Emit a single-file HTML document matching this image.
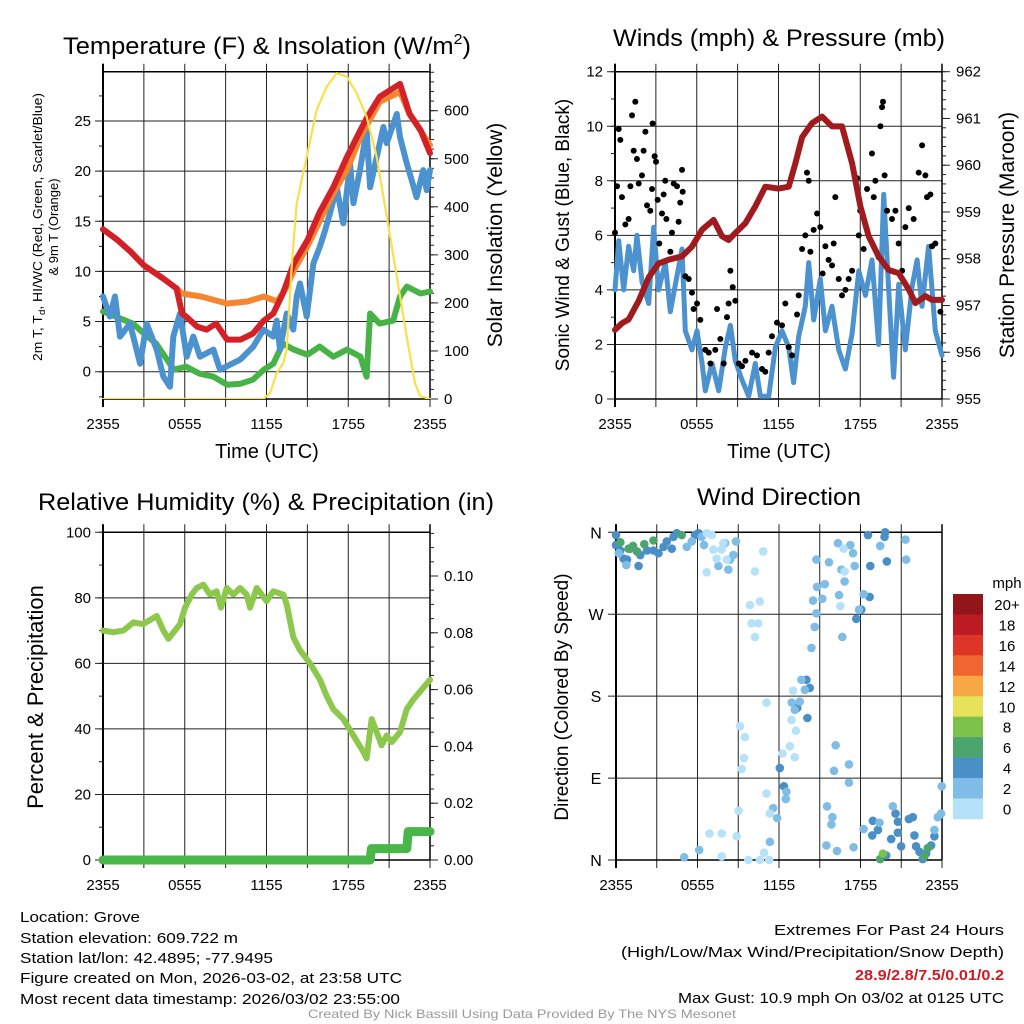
<!DOCTYPE html>
<html><head><meta charset="utf-8"><style>
html,body{margin:0;padding:0;background:#fff}
svg{display:block;font-family:"Liberation Sans",sans-serif}
</style></head><body>
<svg id="fig" width="1024" height="1024" viewBox="0 0 1024 1024" xmlns="http://www.w3.org/2000/svg">
<rect width="1024" height="1024" fill="#fff"/>
<g id="p1"></g>
<g id="p2"></g>
<g id="p3"></g>
<g id="p4"></g>
<g font-size="24" text-anchor="middle" fill="#000">
<text x="267" y="54" textLength="408" lengthAdjust="spacingAndGlyphs">Temperature (F) &amp; Insolation (W/m<tspan dy="-10" font-size="15">2</tspan><tspan dy="10">)</tspan></text>
<text x="779" y="46" textLength="332" lengthAdjust="spacingAndGlyphs">Winds (mph) &amp; Pressure (mb)</text>
<text x="266" y="510" textLength="456" lengthAdjust="spacingAndGlyphs">Relative Humidity (%) &amp; Precipitation (in)</text>
<text x="779" y="505" textLength="164" lengthAdjust="spacingAndGlyphs">Wind Direction</text>
</g>
<g fill="#000" text-anchor="middle">
<text x="267" y="458" font-size="20">Time (UTC)</text>
<text x="779" y="458" font-size="20">Time (UTC)</text>
<text transform="translate(42,227) rotate(-90)" font-size="13" textLength="268" lengthAdjust="spacingAndGlyphs">2m T, T<tspan font-size="9" dy="3">d</tspan><tspan dy="-3">, HI/WC (Red, Green, Scarlet/Blue)</tspan></text>
<text transform="translate(58,227) rotate(-90)" font-size="13">&amp; 9m T (Orange)</text>
<text transform="translate(502,235) rotate(-90)" font-size="21">Solar Insolation (Yellow)</text>
<text transform="translate(569,235) rotate(-90)" font-size="19">Sonic Wind &amp; Gust (Blue, Black)</text>
<text transform="translate(1014,235) rotate(-90)" font-size="21">Station Pressure (Maroon)</text>
<text transform="translate(43,697) rotate(-90)" font-size="22">Percent &amp; Precipitation</text>
<text transform="translate(568,697) rotate(-90)" font-size="19">Direction (Colored By Speed)</text>
</g>
<g font-size="15" fill="#000">
<text x="20" y="922" textLength="120" lengthAdjust="spacingAndGlyphs">Location: Grove</text>
<text x="20" y="943" textLength="218" lengthAdjust="spacingAndGlyphs">Station elevation: 609.722 m</text>
<text x="20" y="963" textLength="253" lengthAdjust="spacingAndGlyphs">Station lat/lon: 42.4895; -77.9495</text>
<text x="20" y="983" textLength="382" lengthAdjust="spacingAndGlyphs">Figure created on Mon, 2026-03-02, at 23:58 UTC</text>
<text x="20" y="1004" textLength="380" lengthAdjust="spacingAndGlyphs">Most recent data timestamp: 2026/03/02 23:55:00</text>
<text x="774" y="935" textLength="230" lengthAdjust="spacingAndGlyphs">Extremes For Past 24 Hours</text>
<text x="621" y="957" textLength="383" lengthAdjust="spacingAndGlyphs">(High/Low/Max Wind/Precipitation/Snow Depth)</text>
<text x="855" y="980" fill="#d01c24" font-weight="bold" textLength="149" lengthAdjust="spacingAndGlyphs">28.9/2.8/7.5/0.01/0.2</text>
<text x="678" y="1003" textLength="326" lengthAdjust="spacingAndGlyphs">Max Gust: 10.9 mph On 03/02 at 0125 UTC</text>
<text x="308" y="1018" font-size="12" fill="#999" textLength="428" lengthAdjust="spacingAndGlyphs">Created By Nick Bassill Using Data Provided By The NYS Mesonet</text>
</g>
</svg>
<script>
// ---------- data (hours since 2355 UTC) ----------
const timeTickLabels = ["2355","0555","1155","1755","2355"];
const tempTickLabels = [0,5,10,15,20,25];
const solarTickLabels = [0,100,200,300,400,500,600];
const windTickLabels = [0,2,4,6,8,10,12];
const pressTickLabels = [955,956,957,958,959,960,961,962];
const rhTickLabels = [0,20,40,60,80,100];
const precipTickLabels = ["0.00","0.02","0.04","0.06","0.08","0.10"];
const dirTickLabels = ["N","E","S","W","N"];
const speedBinLabels = ["0","2","4","6","8","10","12","14","16","18","20+"];

const tempH = [0,1,2,3,4.4,5.4,5.8,6.1,6.9,7.6,8.3,9.1,10.1,11,11.8,12.5,13.2,14,15,15.9,16.9,17.9,18.9,19.4,20.3,21.1,21.8,22.5,23.3,24];
const tempV = [14.2,13.2,12,10.6,9.3,8.3,5.8,5.5,4.5,4.2,4.8,3.2,3.2,3.8,5.1,5.8,7.8,10.8,13.1,15.9,18.4,21.4,24.1,25.4,27.4,28.1,28.7,25.7,24.1,21.8];
const t9H = [0,1,2,3,4.4,5.4,5.8,7.2,9.1,10.6,11.8,12.8,13.5,14,15,16.9,17.9,18.9,20.3,21.8,22.5,24];
const t9V = [14.2,13.2,12,10.6,9.3,8.3,7.8,7.5,6.8,7.0,7.5,7.0,8.5,10.1,12.5,17.8,20.1,23.4,26.9,27.9,25.7,22.6];
const tdH = [0,2.2,3,3.9,5.2,6.1,7.1,8.1,9.1,10.1,11,11.8,12.5,13.2,14,15,15.9,16.9,17.9,18.9,19.35,19.6,20.3,21.3,21.8,22.3,23.3,24];
const tdV = [6,4.8,3.8,2.8,0.2,0.5,-0.2,-0.5,-1.3,-1.2,-0.8,0.2,0.8,2.8,2.2,1.7,2.5,1.5,2.2,1.5,-0.5,5.8,4.8,5.1,7.5,8.5,7.8,8.0];
const wcH = [0,0.51,0.88,1.25,1.98,2.72,3.2,3.94,4.43,4.92,5.16,5.65,6.14,6.63,7.12,8.1,8.59,10.06,11.03,11.77,12.5,12.75,12.99,13.48,13.97,14.22,14.46,14.95,15.44,15.93,16.3,16.66,17.15,17.64,18.13,18.38,18.86,19.35,19.6,20.09,20.58,20.82,21.56,21.8,22.29,23.02,23.51,23.76,24];
const wcV = [7.5,5.5,7.5,3.5,4.8,0.8,4.8,2.2,-0.5,-1.5,3.5,5.8,1.5,3.5,1.5,2.2,0.2,1.2,2.5,4.2,3.5,5.1,2.2,5.8,4.2,7.5,8.8,5.5,10.8,12.5,14.1,15.8,18.4,14.8,20.8,16.8,20.1,24.1,18.4,21.4,24.4,22.8,25.7,23.4,20.8,17.4,20.1,18.1,20.1];
const solarH = [0,11.77,12.26,12.75,13.24,13.48,13.85,14.22,14.95,15.68,16.42,17.15,17.89,18.62,19.35,20.09,20.82,21.56,22.29,22.9,23.27,24];
const solarV = [0,0,12,54,75,103,276,407,504,601,650,678,671,636,588,504,380,255,130,33,6,0];

const windH = [0,0.27,0.64,1.0,1.37,1.61,1.98,2.47,2.84,3.2,3.69,4.06,4.43,4.92,5.16,5.65,6.02,6.39,6.63,7.12,7.61,8.1,8.47,8.83,9.32,9.81,10.3,10.67,11.28,11.77,12.26,12.75,13.11,13.48,13.97,14.22,14.58,15.07,15.44,15.93,16.42,16.91,17.4,17.89,18.38,18.86,19.35,19.72,20.09,20.45,20.82,21.31,21.8,22.17,22.53,23.02,23.51,24];
const windV = [4.0,5.8,4.0,5.6,4.7,6.0,4.3,3.5,6.3,4.0,5.0,3.2,4.2,5.5,2.5,1.8,2.5,1.3,0.3,1.3,0.3,1.9,2.7,1.4,0.7,0.1,1.3,0.1,0.1,1.9,2.5,1.9,0.6,2.3,3.4,5.0,2.9,4.4,2.5,3.4,1.8,1.1,2.4,4.7,3.8,5.1,2.0,7.5,4.0,0.8,4.2,1.8,4.1,5.1,3.4,5.6,2.5,1.6];
const gustH = [0,0.15,0.27,0.39,0.51,0.76,1.0,1.13,1.25,1.37,1.49,1.61,1.74,1.98,2.1,2.23,2.35,2.59,2.72,2.76,2.91,3.01,3.13,3.25,3.45,3.57,3.69,3.77,4.06,4.18,4.31,4.55,4.67,4.79,4.92,4.97,5.16,5.41,5.65,5.77,6.02,6.26,6.63,6.88,7.0,7.36,7.49,7.73,7.98,8.22,8.34,8.47,8.64,8.83,9.08,9.32,9.57,10.06,10.42,10.79,11.03,11.28,11.52,11.89,12.26,12.5,12.75,12.99,13.36,13.48,13.73,13.97,14.09,14.22,14.34,14.58,14.83,15.07,15.24,15.44,15.68,15.93,16.05,16.17,16.42,16.66,16.91,17.15,17.4,17.76,17.89,18.0,18.25,18.5,18.86,18.99,19.11,19.35,19.48,19.6,19.67,19.79,19.97,20.33,20.58,20.82,21.07,21.31,21.56,21.92,22.29,22.54,22.78,22.9,23.15,23.27,23.51,23.88];
const gustV = [6.1,7.8,9.9,9.5,7.4,6.4,6.6,7.8,10.4,9.1,10.9,8.8,7.9,8.2,9.1,9.8,7.1,6.9,7.7,10.1,8.9,8.7,7.3,5.7,6.8,7.5,8.0,6.6,5.4,6.1,7.9,7.8,6.5,7.2,8.4,7.6,4.5,4.4,3.9,3.3,3.5,2.9,1.8,1.7,1.3,1.8,3.3,2.2,1.3,3.0,3.5,4.7,4.1,3.6,1.3,1.2,1.4,1.7,1.6,1.1,1.0,1.7,2.3,2.8,2.7,3.5,1.9,1.6,3.1,3.8,5.5,6.0,8.3,8.0,5.4,6.2,6.8,6.3,4.6,5.6,5.1,4.9,5.7,7.4,4.4,3.8,4.0,4.4,4.7,8.1,6.0,6.9,5.5,7.7,9.0,7.4,8.0,5.2,10.0,10.7,10.9,8.2,6.9,6.6,6.9,5.7,4.7,6.3,7.0,6.6,8.3,9.3,8.2,7.4,7.5,5.6,5.7,3.2];
const pressH = [0,0.51,1.0,1.74,2.47,3.2,3.94,4.92,5.65,6.39,7.24,7.85,8.34,8.83,9.57,10.3,11.03,12.01,12.75,13.24,13.73,14.46,15.2,15.93,16.66,17.4,18.01,18.62,19.35,20.09,20.82,21.56,22.05,22.78,23.27,24];
const pressV = [956.48,956.62,956.7,957.1,957.6,957.9,957.98,958.05,958.26,958.62,958.83,958.48,958.4,958.55,958.76,959.12,959.54,959.5,959.54,960.04,960.6,960.9,961.04,960.83,960.83,960.04,959.12,958.48,958.05,957.76,957.69,957.34,957.05,957.2,957.12,957.12];

const rhH = [0,0.76,1.49,2.23,2.96,3.94,4.43,4.8,5.65,6.02,6.51,6.88,7.36,7.85,8.34,8.66,9.08,9.57,10.06,10.55,10.79,11.28,12.01,12.5,13.24,13.48,13.97,14.46,15.2,15.93,16.42,16.91,17.64,18.38,19.11,19.35,19.72,20.09,20.45,20.82,21.19,21.8,22.29,22.78,24];
const rhV = [70,69.5,70,72.5,72,74.5,70,67.5,72,77,81,83,84,81,82,77,83,81,83,81,77,83,79,82,81,78,68,64,60,55,50,46,43,38,33,31,43,39,35,38,36,39,46,49,55];
const precipH = [0,19.6,19.7,22.3,22.4,24];
const precipV = [0,0,0.004,0.004,0.01,0.01];

const dirH = [0,0,0.32,0.56,0.81,1.05,1.66,1.79,2.28,2.76,3.13,3.5,3.74,4.11,4.23,4.48,5.82,6.07,18.55,19.82,19.77,19.94,18.72,18.67,18.06,17.69,14.02,14.26,13.34,14.09,12.06,12.36,18.91,18.86,19.28,20.26,20.58,20.75,20.75,20.99,21.56,21.85,21.97,22.09,22.34,22.58,22.83,23.2,23.44,19.89,
 0.32,0.93,1.25,1.54,2.08,2.76,4.84,22.95,22.7,19.45,19.65,
 0.2,0.76,5.21,5.58,6.31,6.48,8.39,8.27,8.64,7.54,8.03,8.83,14.75,15.68,16.34,17.25,17.45,17.57,16.59,16.83,14.8,15.37,16.42,14.51,15.19,14.75,14.63,14.39,16.66,13.65,13.9,13.53,16.17,16.05,17.15,17.15,15.54,15.93,15.86,15.49,16.27,17.49,18.23,20.38,19.4,21.31,21.36,19.45,12.55,12.5,11.57,11.87,11.33,6.12,5.02,23.69,23.93,23.44,23.98,18.23,17.89,12.94,13.16,
 6.68,7.05,7.17,7.78,8.15,6.68,7.41,7.9,10.84,10.23,9.86,10.59,9.98,10.47,10.23,11.08,9.13,9.49,9.42,9.25,9.03,11.08,6.88,7.78,8.88,9.74,10.59,11.28,10.91,7.78,11.33,12.26,12.8,13.16,12.92,13.04,13.24,16.76,16.51,16.83];
const dirV = [357,346,340,331,330,342,323,335,340,340,337,344,350,342,355,359,357,359,357,360,355,328,323,289,275,265,198,189,167,156,101,81,43,27,33,23,51,42,30,15,45,47,27,15,9,1,7,16,26,5,
 349,342,345,339,347,351,357,13,4,1,7,
 337,324,344,350,355,346,330,319,335,323,348,350,330,327,348,346,337,323,319,306,300,303,291,285,287,271,256,233,245,198,187,174,126,98,105,85,59,47,39,16,10,14,34,59,41,352,330,345,75,67,57,46,20,11,3,47,51,33,81,292,275,173,165,
 359,357,341,341,330,316,331,348,339,317,280,284,260,260,245,173,147,135,112,100,54,73,29,29,26,0,0,0,8,4,51,117,125,113,154,186,142,342,279,317];
const dirSpeed = [5,5,5,5,5,5,5,5,5,5,5,5,5,5,5,5,5,5,5,5,5,5,5,5,5,5,5,5,5,5,5,5,5,5,5,5,5,5,5,5,5,5,5,5,5,5,5,5,5,5,
 7,7,7,7,7,7,7,7,7,7,9,
 3,3,3,3,3,3,3,3,3,3,3,3,3,3,3,3,3,3,3,3,3,3,3,3,3,3,3,3,3,3,3,3,3,3,3,3,3,3,3,3,3,3,3,3,3,3,3,3,3,3,3,3,3,3,3,3,3,3,3,3,3,3,3,
 1,1,1,1,1,1,1,1,1,1,1,1,1,1,1,1,1,1,1,1,1,1,1,1,1,1,1,1,1,1,1,1,1,1,1,1,1,1,1,1];
const speedColors = ["#b5e2f8","#7fbce6","#4a8fc6","#4da56e","#7cc24a","#e6e35a","#f7a845","#f06630","#dd3528","#bc1b23","#921519"];

// ---------- helpers ----------
const NS = "http://www.w3.org/2000/svg";
function mk(parent, tag, attrs){ const e=document.createElementNS(NS,tag); for(const k in attrs) e.setAttribute(k,attrs[k]); parent.appendChild(e); return e; }
function linScale(d0,d1,r0,r1){ return v => r0 + (v-d0)*(r1-r0)/(d1-d0); }
function pathD(xs,ys,sx,sy){ return xs.map((h,i)=>(i?"L":"M")+sx(h).toFixed(1)+","+sy(ys[i]).toFixed(1)).join(""); }

function frame(g, X0, X1, Y0, Y1, gridYs, name){
  const sx = linScale(0,24,X0,X1);
  for(let k=0;k<=8;k++){
    const x = sx(k*3);
    const l = mk(g,"line",{x1:x,x2:x,y1:Y0-8,y2:Y1+8,stroke:"#222","stroke-width":1});
    
    
  }
  gridYs.forEach(y=>{
    const l = mk(g,"line",{x1:X0-8,x2:X1,y1:y,y2:y,stroke:"#222","stroke-width":1});
    
    
  });
  mk(g,"line",{x1:X0,x2:X0,y1:Y0-8,y2:Y1+8,stroke:"#000","stroke-width":2});
  mk(g,"line",{x1:X1,x2:X1,y1:Y0-8,y2:Y1,stroke:"#000","stroke-width":1.5});
  mk(g,"line",{x1:X0,x2:X1,y1:Y0,y2:Y0,stroke:"#000","stroke-width":1.5});
  mk(g,"line",{x1:X0,x2:X1,y1:Y1,y2:Y1,stroke:"#000","stroke-width":1.5});
  timeTickLabels.forEach((t,i)=>{
    const tx = mk(g,"text",{x:sx(i*6),y:Y1+30,"font-size":15,"text-anchor":"middle"});
    tx.textContent=t;
    
    
  });
  return sx;
}
function leftTicks(g,X0,vals,sy,labels,minorStep,lo,hi,name){
  for(let v=lo; v<=hi+1e-9; v+=minorStep) mk(g,"line",{x1:X0-4,x2:X0,y1:sy(v),y2:sy(v),stroke:"#222"});
  vals.forEach((v,i)=>{
    const tx=mk(g,"text",{x:X0-12,y:sy(v)+5,"font-size":15,"text-anchor":"end"});
    tx.textContent=labels[i];
    
    
  });
}
function rightTicks(g,X1,vals,sy,labels,minorStep,lo,hi,name){
  for(let v=lo; v<=hi+1e-9; v+=minorStep) mk(g,"line",{x1:X1,x2:X1+4,y1:sy(v),y2:sy(v),stroke:"#222"});
  vals.forEach((v,i)=>{
    mk(g,"line",{x1:X1,x2:X1+8,y1:sy(v),y2:sy(v),stroke:"#222"});
    const tx=mk(g,"text",{x:X1+14,y:sy(v)+5,"font-size":15});
    tx.textContent=labels[i];
    
    
  });
}
function line(g,xs,ys,sx,sy,color,w,name){
  const p = mk(g,"path",{d:pathD(xs,ys,sx,sy),fill:"none",stroke:color,"stroke-width":w,"stroke-linejoin":"round","stroke-linecap":"round"});
  
  
  return p;
}

// ---------- panel 1 ----------
(function(){
  const g=document.getElementById("p1");
  const X0=103,X1=430,Y0=71.7,Y1=399;
  const sy=linScale(0,25,371.7,121);
  const sSol=linScale(0,600,399,110.7);
  const sx=frame(g,X0,X1,Y0,Y1,tempTickLabels.map(sy),"temp");
  leftTicks(g,X0,tempTickLabels,sy,tempTickLabels,2.5,-2.5,27.5,"temp");
  rightTicks(g,X1,solarTickLabels,sSol,solarTickLabels,20,0,680,"solar");
  const clip=mk(g,"clipPath",{id:"c1"}); mk(clip,"rect",{x:X0-4,y:Y0,width:X1-X0+8,height:Y1-Y0});
  const d=mk(g,"g",{"clip-path":"url(#c1)"});
  line(d,tdH,tdV,sx,sy,"#47b347",6,"dewpoint-line");
  line(d,wcH,wcV,sx,sy,"#4b92cf",6,"wind-chill-line");
  line(d,t9H,t9V,sx,sy,"#f5862f",6,"temp-9m-line");
  line(d,tempH,tempV,sx,sy,"#d42027",6,"temp-2m-line");
  line(d,solarH,solarV,sx,sSol,"#f9e04b",2.2,"solar-line");
})();

// ---------- panel 2 ----------
(function(){
  const g=document.getElementById("p2");
  const X0=615,X1=942,Y0=71.7,Y1=399;
  const sy=linScale(0,12,399,71.7);
  const sp=linScale(955,962,399,71.7);
  const sx=frame(g,X0,X1,Y0,Y1,windTickLabels.map(sy),"wind");
  leftTicks(g,X0,windTickLabels,sy,windTickLabels,1,0,12,"wind");
  rightTicks(g,X1,pressTickLabels,sp,pressTickLabels,0.2,955,962,"pressure");
  const clip=mk(g,"clipPath",{id:"c2"}); mk(clip,"rect",{x:X0-4,y:Y0,width:X1-X0+8,height:Y1-Y0});
  const d=mk(g,"g",{"clip-path":"url(#c2)"});
  line(d,windH,windV,sx,sy,"#4b92cf",5,"sonic-wind-line");
  gustH.forEach((h,i)=>{
    const c=mk(d,"circle",{cx:sx(h),cy:sy(gustV[i]),r:3,fill:"#000"});
    
    
  });
  line(d,pressH,pressV,sx,sp,"#a01b1e",6,"pressure-line");
})();

// ---------- panel 3 ----------
(function(){
  const g=document.getElementById("p3");
  const X0=103,X1=430,Y0=532.3,Y1=860;
  const sy=linScale(0,100,860,532.3);
  const spr=linScale(0,0.1,860,576);
  const sx=frame(g,X0,X1,Y0,Y1,rhTickLabels.map(sy),"rh");
  leftTicks(g,X0,rhTickLabels,sy,rhTickLabels,10,0,100,"rh");
  rightTicks(g,X1,[0,0.02,0.04,0.06,0.08,0.10],spr,precipTickLabels,0.005,0,0.115,"precip");
  line(g,rhH,rhV,sx,sy,"#8cc84b",6,"rh-line");
  line(g,precipH,precipV,sx,spr,"#48b648",9,"precip-line");
})();

// ---------- panel 4 ----------
(function(){
  const g=document.getElementById("p4");
  const X0=616,X1=942,Y0=532.3,Y1=860;
  const sy=linScale(0,360,860,532.3);
  const sx=frame(g,X0,X1,Y0,Y1,[0,90,180,270,360].map(sy),"dir");
  [0,90,180,270,360].forEach((v,i)=>{
    const tx=mk(g,"text",{x:X0-20,y:sy(v)+6,"font-size":16,"text-anchor":"middle"});
    tx.textContent=dirTickLabels[i];
    
    
  });
  dirH.forEach((h,i)=>{
    const bin=Math.min(10,Math.floor(dirSpeed[i]/2));
    const c=mk(g,"circle",{cx:sx(h),cy:sy(dirV[i]),r:4.3,fill:speedColors[bin]});
    
    
  });
  const cb=mk(g,"g",{});
  
  
  const top=594, bh=20.45;
  const ttl=mk(cb,"text",{x:1007,y:588,"font-size":15,"text-anchor":"middle"}); ttl.textContent="mph";
  for(let k=0;k<11;k++){
    const idx=10-k;
    mk(cb,"rect",{x:953,y:top+k*bh,width:30,height:bh+0.3,fill:speedColors[idx]});
    const t=mk(cb,"text",{x:1007,y:top+k*bh+16,"font-size":15,"text-anchor":"middle"});
    t.textContent=speedBinLabels[idx];
    
    
  }
})();
</script>
</body></html>
